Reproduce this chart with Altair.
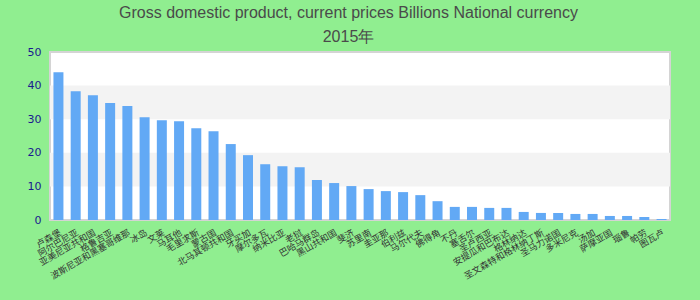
import altair as alt
import pandas as pd

categories = ["卢森堡", "阿尔巴尼亚", "亚美尼亚共和国", "格鲁吉亚", "波斯尼亚和黑塞哥维那", "冰岛",
              "文莱", "马耳他", "毛里求斯", "蒙古国", "北马其顿共和国", "牙买加",
              "摩尔多瓦", "纳米比亚", "老挝", "巴哈马群岛", "黑山共和国", "斐济",
              "苏里南", "圭亚那", "伯利兹", "马尔代夫", "佛得角", "不丹",
              "塞舌尔", "圣卢西亚", "安提瓜和巴布达", "格林纳达", "圣文森特和格林纳丁斯", "圣马力诺国",
              "多米尼克", "汤加", "萨摩亚国", "瑙鲁", "帕劳", "图瓦卢"]
values = [44.0, 38.3, 37.1, 34.8, 33.9, 30.6, 29.7, 29.4, 27.3, 26.4, 22.6, 19.3,
          16.6, 16.0, 15.7, 11.9, 11.0, 10.1, 9.2, 8.6, 8.3, 7.4, 5.6, 3.9,
          3.9, 3.6, 3.6, 2.4, 2.1, 2.1, 1.8, 1.8, 1.2, 1.2, 0.9, 0.3]
band_start = [10, 30]
band_end = [20, 40]
y_ticks = [0, 10, 20, 30, 40, 50]

df = pd.DataFrame({"name": categories, "value": values})
bands = pd.DataFrame({"y0": band_start, "y1": band_end})

y_scale = alt.Scale(domain=[0, 50], nice=False)
y_axis = alt.Axis(title=None, values=y_ticks, grid=False, ticks=False, domain=False,
                  labelColor="#1a1a8f", labelFontSize=11, labelPadding=9,
                  labelFont="DejaVu Sans")

band_layer = alt.Chart(bands).mark_rect(color="#f3f3f3").encode(
    y=alt.Y("y0:Q", scale=y_scale, axis=y_axis),
    y2="y1:Q",
)

bars = alt.Chart(df).mark_bar(color="#62a9f5").encode(
    x=alt.X("name:N", sort=None,
            scale=alt.Scale(paddingInner=0.42, paddingOuter=0.2),
            axis=alt.Axis(title=None, labelAngle=-30, labelAlign="right", labelBaseline="top",
                          labelFontSize=9, labelColor="#333333", ticks=False, domain=False,
                          labelPadding=8, labelOverlap=False, labelFont="Noto Sans CJK SC")),
    y=alt.Y("value:Q", scale=y_scale, axis=y_axis),
)

chart = alt.layer(band_layer, bars).properties(
    width=620,
    height=168,
    background="#90EE90",
    padding={"left": 50, "top": 52, "right": 30, "bottom": 80},
    autosize=alt.AutoSizeParams(type="none"),
    title=alt.TitleParams(
        text=["Gross domestic product, current prices Billions National currency", "2015年"],
        font="Liberation Sans Narrow, Liberation Sans, Arial, sans-serif",
        fontSize=16,
        fontWeight="normal",
        color="#4a4a4a",
        lineHeight=24,
        anchor="middle",
        frame="bounds",
        offset=1,
    ),
).configure_view(
    fill="white",
    stroke="#d4d4d4",
    strokeWidth=2,
)

chart.save("out.html", embed_options={"renderer": "svg", "actions": False})
